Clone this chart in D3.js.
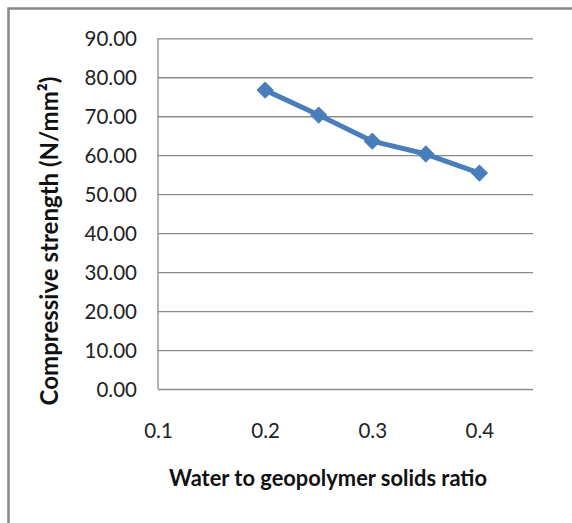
<!DOCTYPE html>
<html><head><meta charset="utf-8">
<script src="https://cdn.jsdelivr.net/npm/d3@7"></script>
<style>body{margin:0;background:#fff}svg{display:block}</style>
</head><body>
<svg id="c" width="572" height="523"></svg>
<script>
const ratio = [0.2, 0.25, 0.3, 0.35, 0.4];
const strength = [76.7, 70.3, 63.6, 60.3, 55.4];
const xTicks = [0.1, 0.2, 0.3, 0.4];
const yTicks = [0, 10, 20, 30, 40, 50, 60, 70, 80, 90];
const xTitle = "Water to geopolymer solids ratio";
const yTitle = "Compressive strength (N/mm²)";

const svg = d3.select("#c");
const font = "Lato, 'Open Sans', sans-serif";
const W = 572, H = 523;
const m = {l: 158, r: 533, t: 38.3, b: 389};

svg.append("rect").attr("x", 8.5).attr("y", 8.5).attr("width", W).attr("height", H)
  .attr("fill", "#fff").attr("stroke", "#878787").attr("stroke-width", 2.5);

const x = d3.scaleLinear().domain([0.1, 0.45]).range([m.l, m.r]);
const y = d3.scaleLinear().domain([0, 90]).range([m.b, m.t]);

function fit(sel, target) {
  const n = sel.node();
  const fs = parseFloat(sel.attr("font-size"));
  const w = n.getComputedTextLength();
  sel.attr("font-size", (fs * target / w).toFixed(2));
}

// gridlines
const grid = svg.append("g").call(d3.axisLeft(y).tickValues(yTicks).tickSize(-(m.r - m.l)).tickFormat(""))
  .attr("transform", `translate(${m.l},0)`);
grid.select(".domain").remove();
grid.selectAll(".tick line").attr("stroke", "#8a8a8a").attr("stroke-width", 1.3);

// left axis line
svg.append("line").attr("x1", m.l).attr("x2", m.l).attr("y1", m.t).attr("y2", m.b)
  .attr("stroke", "#8a8a8a").attr("stroke-width", 1.3);

// y tick labels
const yl = svg.append("g").call(d3.axisLeft(y).tickValues(yTicks).tickSize(0).tickPadding(0).tickFormat(d => d.toFixed(2)))
  .attr("transform", `translate(137,0)`);
yl.select(".domain").remove();
yl.selectAll("text").attr("font-family", font).attr("font-size", 20.5).attr("fill", "#222")
  .attr("dy", "0.36em");

// x tick labels
const xl = svg.append("g").call(d3.axisBottom(x).tickValues(xTicks).tickSize(0).tickPadding(0).tickFormat(d3.format(".1f")))
  .attr("transform", `translate(0,438)`);
xl.select(".domain").remove();
xl.selectAll("text").attr("font-family", font).attr("font-size", 20.5).attr("fill", "#222").attr("dy", 0);

// line
const line = d3.line().x((d, i) => x(ratio[i])).y(d => y(d));
svg.append("path").datum(strength).attr("d", line).attr("fill", "none")
  .attr("stroke", "#4a7ebb").attr("stroke-width", 5).attr("stroke-linejoin", "round");

// markers
svg.append("g").selectAll("path").data(strength).join("path")
  .attr("d", d3.symbol(d3.symbolSquare, 150)())
  .attr("transform", (d, i) => `translate(${x(ratio[i])},${y(d)}) rotate(45)`)
  .attr("fill", "#4a7ebb");

// titles
const xt = svg.append("text").attr("x", 328).attr("y", 486).attr("text-anchor", "middle")
  .attr("font-family", font).attr("font-weight", "bold").attr("font-size", 20).attr("fill", "#111").text(xTitle);
fit(xt, 318);

const yt = svg.append("text").attr("transform", "translate(58,241) rotate(-90)").attr("text-anchor", "middle")
  .attr("font-family", font).attr("font-weight", "bold").attr("font-size", 20).attr("fill", "#111").text(yTitle);
fit(yt, 329);
</script>
</body></html>
